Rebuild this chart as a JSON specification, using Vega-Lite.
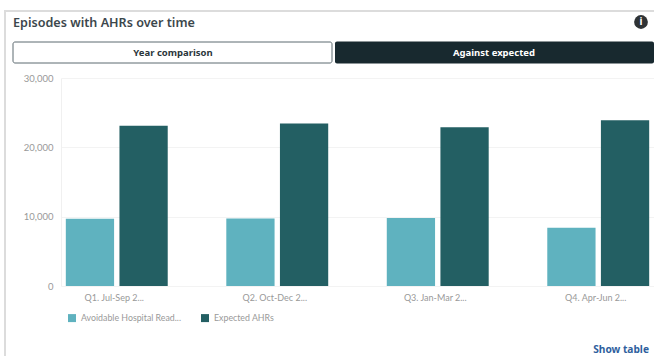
{
  "$schema": "https://vega.github.io/schema/vega-lite/v6.json",
  "width": 593,
  "height": 208,
  "autosize": "none",
  "padding": {"left": 61, "top": 78, "right": 0, "bottom": 70},
  "background": "white",
  "title": {
    "text": "Episodes with AHRs over time",
    "anchor": "start",
    "frame": "group",
    "dx": -48,
    "dy": 24,
    "font": "Noto Sans",
    "fontSize": 12.6,
    "fontWeight": 600,
    "color": "#3c474c"
  },
  "config": {"view": {"stroke": null}},
  "layer": [
    {
      "data": {"values": [{"part": "top"}]},
      "mark": {"type": "rect", "fill": "#dcdcdc"},
      "encoding": {
        "x": {"value": -57},
        "x2": {"value": 593},
        "y": {"value": -68},
        "y2": {"value": -66}
      }
    },
    {
      "data": {"values": [{"part": "left"}]},
      "mark": {"type": "rect", "fill": "#dcdcdc"},
      "encoding": {
        "x": {"value": -57},
        "x2": {"value": -55},
        "y": {"value": -68},
        "y2": {"value": 278}
      }
    },
    {
      "data": {"values": [{"label": "Year comparison"}]},
      "mark": {"type": "rect", "fill": "white", "stroke": "#5d6a70", "strokeWidth": 1, "cornerRadius": 2},
      "encoding": {
        "x": {"value": -48},
        "x2": {"value": 271},
        "y": {"value": -36},
        "y2": {"value": -15}
      }
    },
    {
      "data": {"values": [{"label": "Against expected"}]},
      "mark": {"type": "rect", "fill": "#18292f", "cornerRadius": 2},
      "encoding": {
        "x": {"value": 274},
        "x2": {"value": 593},
        "y": {"value": -36.5},
        "y2": {"value": -14.5}
      }
    },
    {
      "data": {"values": [{"label": "Year comparison"}]},
      "mark": {"type": "text", "font": "Noto Sans", "fontSize": 9.5, "fontWeight": 700, "color": "#2b363b"},
      "encoding": {
        "x": {"value": 112},
        "y": {"value": -25},
        "text": {"field": "label"}
      }
    },
    {
      "data": {"values": [{"label": "Against expected"}]},
      "mark": {"type": "text", "font": "Noto Sans", "fontSize": 9.5, "fontWeight": 700, "color": "white"},
      "encoding": {
        "x": {"value": 433},
        "y": {"value": -25},
        "text": {"field": "label"}
      }
    },
    {
      "data": {"values": [{"icon": "info"}]},
      "mark": {"type": "point", "shape": "circle", "filled": true, "size": 190, "color": "#2f3335", "opacity": 1},
      "encoding": {
        "x": {"value": 580},
        "y": {"value": -56}
      }
    },
    {
      "data": {"values": [{"icon": "i"}]},
      "mark": {"type": "text", "font": "Noto Sans", "fontSize": 10, "fontWeight": 700, "color": "white"},
      "encoding": {
        "x": {"value": 580},
        "y": {"value": -56},
        "text": {"field": "icon"}
      }
    },
    {
      "data": {"values": [{"link": "Show table"}]},
      "mark": {"type": "text", "font": "Noto Sans", "fontSize": 10.2, "fontWeight": 700, "color": "#2f5f9e", "align": "right"},
      "encoding": {
        "x": {"value": 588},
        "y": {"value": 272},
        "text": {"field": "link"}
      }
    },
    {
      "data": {
        "values": [
          {"quarter": "Q1. Jul-Sep 2...", "series": "Avoidable Hospital Read...", "episodes": 9700},
          {"quarter": "Q1. Jul-Sep 2...", "series": "Expected AHRs", "episodes": 23100},
          {"quarter": "Q2. Oct-Dec 2...", "series": "Avoidable Hospital Read...", "episodes": 9750},
          {"quarter": "Q2. Oct-Dec 2...", "series": "Expected AHRs", "episodes": 23450},
          {"quarter": "Q3. Jan-Mar 2...", "series": "Avoidable Hospital Read...", "episodes": 9800},
          {"quarter": "Q3. Jan-Mar 2...", "series": "Expected AHRs", "episodes": 22900},
          {"quarter": "Q4. Apr-Jun 2...", "series": "Avoidable Hospital Read...", "episodes": 8400},
          {"quarter": "Q4. Apr-Jun 2...", "series": "Expected AHRs", "episodes": 23900}
        ]
      },
      "mark": {"type": "bar"},
      "encoding": {
        "x": {
          "field": "quarter",
          "type": "nominal",
          "sort": null,
          "title": null,
          "scale": {"paddingInner": 0.365, "paddingOuter": 0.03},
          "axis": {
            "labelAngle": 0,
            "labelFont": "Lato",
            "labelFontSize": 9,
            "labelColor": "#999999",
            "labelPadding": 7,
            "labelOffset": -2.5,
            "domain": false,
            "ticks": false
          }
        },
        "xOffset": {
          "field": "series",
          "type": "nominal",
          "scale": {"paddingInner": 0.1, "paddingOuter": 0}
        },
        "y": {
          "field": "episodes",
          "type": "quantitative",
          "title": null,
          "scale": {"domain": [0, 30000]},
          "axis": {
            "values": [0, 10000, 20000, 30000],
            "format": ",d",
            "labelFont": "Lato",
            "labelFontSize": 9.5,
            "labelColor": "#999999",
            "labelPadding": 8,
            "ticks": false,
            "domainColor": "#f0f0f0",
            "gridColor": "#f3f3f3"
          }
        },
        "color": {
          "field": "series",
          "type": "nominal",
          "title": null,
          "scale": {
            "domain": ["Avoidable Hospital Read...", "Expected AHRs"],
            "range": ["#5fb2bf", "#235f63"]
          },
          "legend": {
            "orient": "none",
            "legendX": 6,
            "legendY": 235,
            "direction": "horizontal",
            "symbolType": "square",
            "symbolSize": 64,
            "symbolOpacity": 1,
            "labelFont": "Lato",
            "labelFontSize": 8.8,
            "labelColor": "#999999",
            "labelLimit": 140,
            "columnPadding": 19
          }
        }
      }
    }
  ]
}
